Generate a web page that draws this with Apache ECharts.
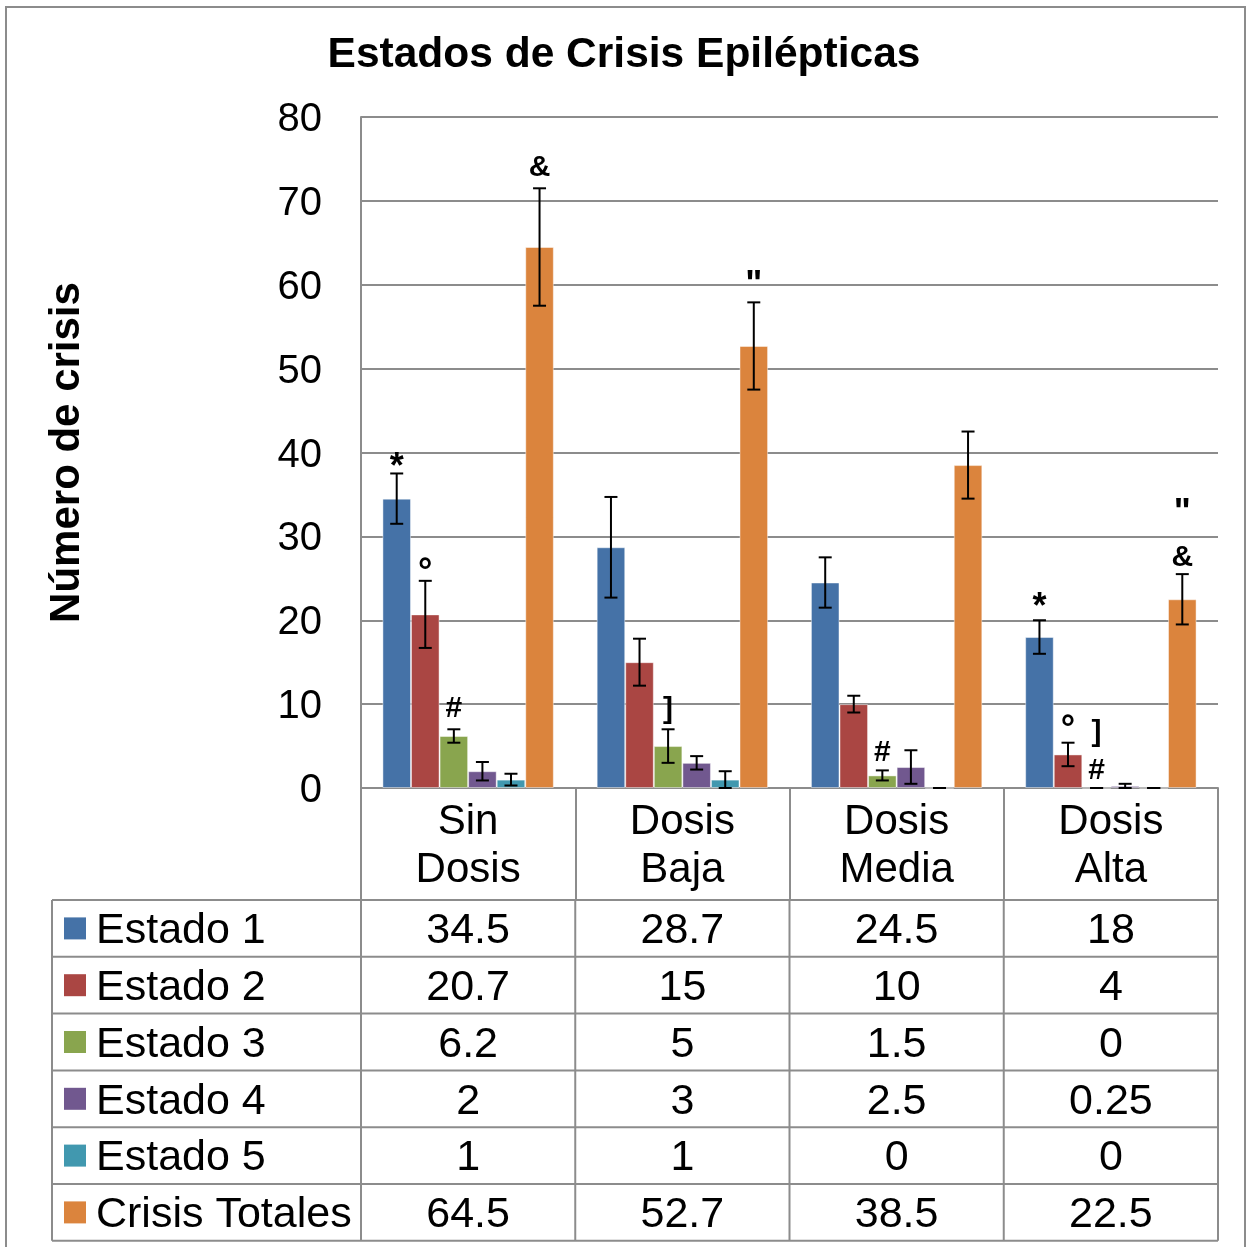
<!DOCTYPE html>
<html>
<head>
<meta charset="utf-8">
<script src="https://cdn.jsdelivr.net/npm/echarts@6/dist/echarts.min.js"></script>
<style>
html, body { margin: 0; padding: 0; background: #fff; }
#chart { width: 1248px; height: 1247px; }
</style>
</head>
<body>
<div id="chart"></div>
<script>
// datos
var categories = ['Sin\nDosis', 'Dosis\nBaja', 'Dosis\nMedia', 'Dosis\nAlta'];
var seriesNames = ['Estado 1', 'Estado 2', 'Estado 3', 'Estado 4', 'Estado 5', 'Crisis Totales'];
var colors = ['#4572A7', '#AA4643', '#89A54E', '#71588F', '#4198AF', '#DB843D'];

var estado1 = [34.5, 28.7, 24.5, 18];
var estado2 = [20.7, 15, 10, 4];
var estado3 = [6.2, 5, 1.5, 0];
var estado4 = [2, 3, 2.5, 0.25];
var estado5 = [1, 1, 0, 0];
var totales = [64.5, 52.7, 38.5, 22.5];

// barras de error (+/-)
var err1 = [3, 6, 3, 2];
var err2 = [4, 2.8, 1, 1.4];
var err3 = [0.8, 2, 0.6, 0];
var err4 = [1.1, 0.8, 2, 0.25];
var err5 = [0.7, 1, 0, 0];
var errT = [7, 5.2, 4, 3];

// marcas de significancia
var annSeries = [0, 1, 2, 5, 2, 5, 2, 0, 1, 2, 2, 5, 5];
var annCats   = [0, 0, 0, 0, 1, 1, 2, 3, 3, 3, 3, 3, 3];
var annTexts  = ['*', '°', '#', '&', ']', '"', '#', '*', '°', ']', '#', '"', '&'];
var annY      = [39.2, 26.7, 9.5, 73.9, 9.3, 60.9, 4.2, 22.5, 8.0, 6.6, 2.0, 33.7, 27.5];

var yTicks = [0, 10, 20, 30, 40, 50, 60, 70, 80];

var values = [estado1, estado2, estado3, estado4, estado5, totales];
var errors = [err1, err2, err3, err4, err5, errT];

var FONT = '"Liberation Sans", Arial, sans-serif';
var GRID_L = 361, GRID_R = 30, GRID_T = 117, GRID_B = 459;
var GAP = 0.2; // barCategoryGap

var chart = echarts.init(document.getElementById('chart'));

//posicion x de la barra i dentro de la categoria
function barX(api, cat, sIdx) {
    var band = api.size([1, 0])[0];
    var bw = band * (1 - GAP) / values.length;
    return api.coord([cat, 0])[0] - band * (1 - GAP) / 2 + bw * (sIdx + 0.5);
}

function errorRender(sIdx) {
    return function (params, api) {
        var cat = api.value(0), val = api.value(1), err = api.value(2);
        var x = barX(api, cat, sIdx);
        var yT = api.coord([cat, val + err])[1];
        var yB = api.coord([cat, Math.max(val - err, 0)])[1];
        var cap = 6.5;
        var st = { stroke: '#000', lineWidth: 2 };
        return {
            type: 'group',
            children: [
                { type: 'line', shape: { x1: x, y1: yT, x2: x, y2: yB }, style: st },
                { type: 'line', shape: { x1: x - cap, y1: yT, x2: x + cap, y2: yT }, style: st },
                { type: 'line', shape: { x1: x - cap, y1: yB, x2: x + cap, y2: yB }, style: st }
            ]
        };
    };
}

function annRender(params, api) {
    var i = params.dataIndex;
    var t = annTexts[i];
    var x = barX(api, api.value(0), annSeries[i]);
    var y = api.coord([api.value(0), api.value(1)])[1];
    var big = '*°"'.indexOf(t) >= 0;
    if (big) y += 9;
    return {
        type: 'text',
        x: x, y: y,
        style: {
            text: t, fontSize: big ? 36 : 30, fontWeight: 'bold', fontFamily: FONT,
            fill: '#000', align: 'center', verticalAlign: 'middle'
        }
    };
}

var series = [];
seriesNames.forEach(function (name, i) {
    series.push({
        name: name,
        type: 'bar',
        data: values[i],
        barGap: '0%',
        barCategoryGap: '20%',
        itemStyle: { color: colors[i], borderColor: 'rgba(255,255,255,0.45)', borderWidth: 1 },
        z: 2
    });
});
seriesNames.forEach(function (name, i) {
    series.push({
        type: 'custom',
        renderItem: errorRender(i),
        data: values[i].map(function (v, c) { return [c, v, errors[i][c]]; }),
        encode: { x: 0, y: 1 },
        z: 5,
        silent: true
    });
});
series.push({
    type: 'custom',
    renderItem: annRender,
    data: annCats.map(function (c, i) { return [c, annY[i]]; }),
    encode: { x: 0, y: 1 },
    z: 6,
    silent: true
});

chart.setOption({
    animation: false,
    backgroundColor: '#fff',
    title: {
        text: 'Estados de Crisis Epilépticas',
        left: 'center',
        top: 29,
        textStyle: { fontFamily: FONT, fontWeight: 'bold', fontSize: 42.5, color: '#000' }
    },
    grid: { left: GRID_L, right: GRID_R, top: GRID_T, bottom: GRID_B },
    xAxis: {
        type: 'category',
        data: categories,
        axisLine: { lineStyle: { color: '#8c8c8c', width: 2 } },
        axisTick: { show: true, length: 112, lineStyle: { color: '#8c8c8c', width: 2 } },
        axisLabel: { color: '#000', fontFamily: FONT, fontSize: 42, lineHeight: 48, margin: 10 }
    },
    yAxis: {
        type: 'value',
        min: yTicks[0],
        max: yTicks[yTicks.length - 1],
        interval: yTicks[1] - yTicks[0],
        name: 'Número de crisis',
        nameLocation: 'middle',
        nameGap: 273,
        nameTextStyle: { fontFamily: FONT, fontWeight: 'bold', fontSize: 42, color: '#000' },
        axisLine: { show: true, lineStyle: { color: '#8c8c8c', width: 2 } },
        axisTick: { show: false },
        axisLabel: { color: '#000', fontFamily: FONT, fontSize: 40, margin: 39, verticalAlign: 'top', lineHeight: 6 },
        splitLine: { lineStyle: { color: '#8c8c8c', width: 2 } }
    },
    series: series
});

// tabla de datos bajo el eje
var rowH = 56.8, tableTop = 900, tableLeft = 52, tableRight = 1248 - GRID_R;
var lineStyle = { stroke: '#8c8c8c', lineWidth: 2 };
var graphics = [];
graphics.push({
    type: 'rect', shape: { x: 6, y: 7, width: 1239, height: 1260 },
    style: { fill: 'none', stroke: '#8c8c8c', lineWidth: 2 }, silent: true
});
for (var r = 0; r <= seriesNames.length; r++) {
    var yy = tableTop + r * rowH;
    graphics.push({ type: 'line', shape: { x1: tableLeft, y1: yy, x2: tableRight, y2: yy }, style: lineStyle });
}
var vx = [tableLeft];
for (var c = 0; c <= categories.length; c++) {
    vx.push(GRID_L + c * (tableRight - GRID_L) / categories.length);
}
vx.forEach(function (x) {
    graphics.push({ type: 'line', shape: { x1: x, y1: tableTop, x2: x, y2: tableTop + rowH * seriesNames.length }, style: lineStyle });
});
seriesNames.forEach(function (name, i) {
    var cy = tableTop + (i + 0.5) * rowH;
    graphics.push({ type: 'rect', shape: { x: 64, y: cy - 11, width: 22, height: 22 }, style: { fill: colors[i] } });
    graphics.push({
        type: 'text', x: 96, y: cy + 3,
        style: { text: name, font: '43px ' + FONT, fill: '#000', align: 'left', verticalAlign: 'middle' }
    });
    values[i].forEach(function (v, c) {
        var px = chart.convertToPixel({ xAxisIndex: 0 }, c);
        graphics.push({
            type: 'text', x: px, y: cy + 3,
            style: { text: String(v), font: '43px ' + FONT, fill: '#000', align: 'center', verticalAlign: 'middle' }
        });
    });
});
chart.setOption({ graphic: { elements: graphics } });
</script>
</body>
</html>
